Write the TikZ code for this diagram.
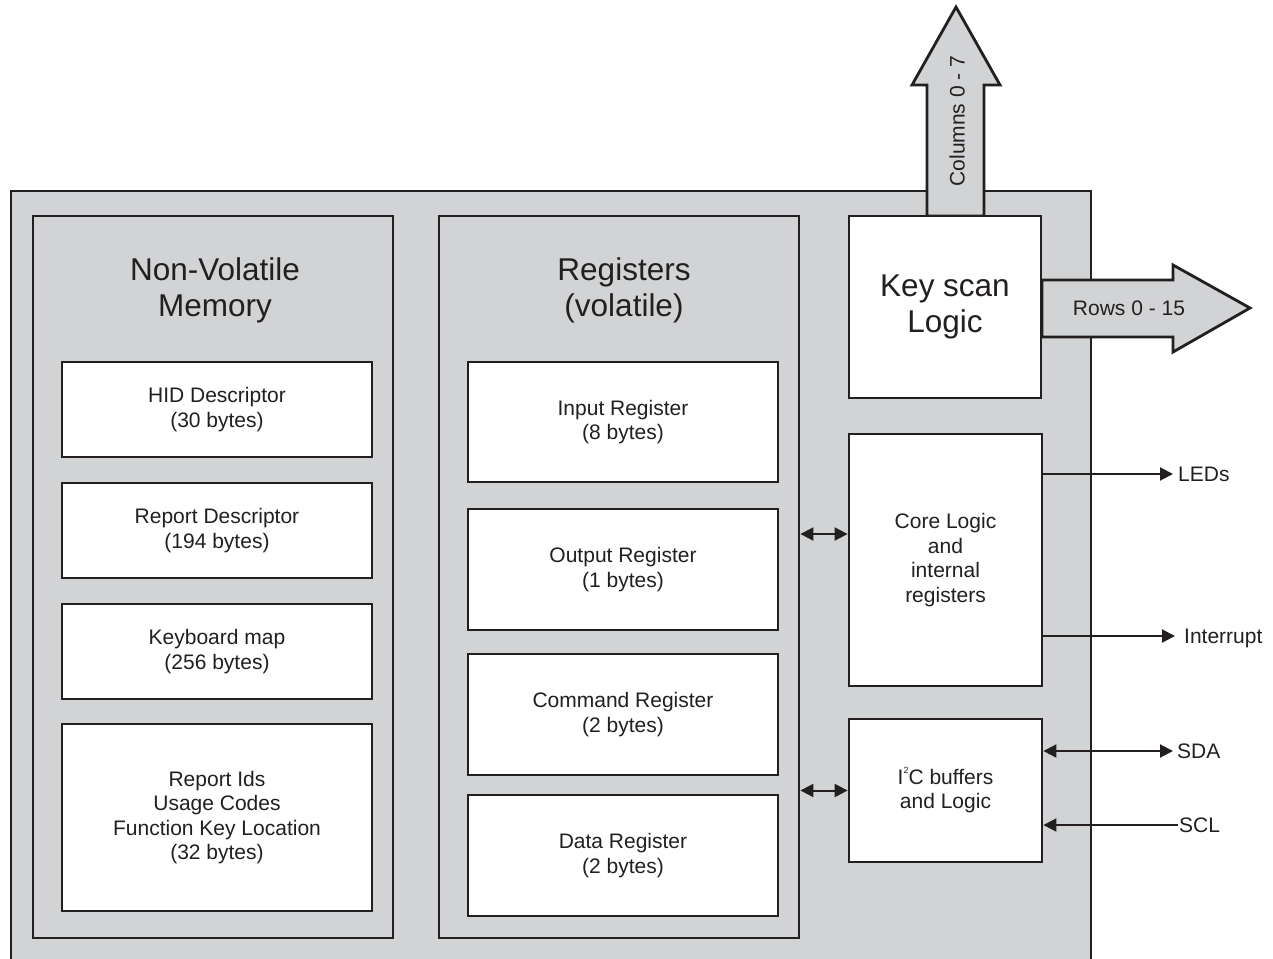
\documentclass[tikz,border=0pt]{standalone}
\usepackage{fontspec}
\setmainfont{Liberation Sans}
\usetikzlibrary{arrows.meta}
\definecolor{panelgray}{RGB}{209,211,212}
\definecolor{inkdark}{RGB}{35,31,32}
\newcommand{\smalltxt}{\fontsize{21}{24.5}\selectfont}
\newcommand{\bigtxt}{\fontsize{31.5}{36}\selectfont}
\newcommand{\itwoc}{I\raisebox{0.95ex}{\fontsize{9}{9}\selectfont 2}C}

\begin{document}
\begin{tikzpicture}[x=1pt,y=-1pt,every node/.style={text=inkdark},
 chip/.style={draw=inkdark,fill=panelgray,line width=2.4pt,inner sep=0},
 panel/.style={draw=inkdark,fill=panelgray,line width=2.8pt,minimum width=360pt,minimum height=722pt,inner sep=0},
 cell/.style={draw=inkdark,fill=white,line width=2.8pt,minimum width=310pt,align=center,font=\smalltxt,inner sep=0},
 logic/.style={draw=inkdark,fill=white,line width=2.8pt,minimum width=193pt,align=center,font=\smalltxt,inner sep=0},
 title/.style={align=center,font=\bigtxt},
 fat/.style={draw=inkdark,fill=panelgray,line width=2.8pt,line join=miter},
 sig/.style={line width=2pt,draw=inkdark,-{Triangle[length=13pt,width=13pt]}},
 bus/.style={line width=2pt,draw=inkdark,{Triangle[length=13pt,width=13pt]}-{Triangle[length=13pt,width=13pt]}},
 pin/.style={anchor=west,font=\smalltxt,inner ysep=0,text height=15pt,text depth=0pt}]
\useasboundingbox (0,0) rectangle (1273,958);

% chip outline and the two memory panels
\node[chip,minimum width=1080pt,minimum height=780pt] (chip) at (551,581) {};
\node[panel] (nvm) at (213,577) {};
\node[panel] (regs) at (619,577) {};
\node[title] (nvmtitle) at (215,290) {Non-Volatile\\Memory};
\node[title] (regtitle) at (624,290) {Registers\\(volatile)};

% non-volatile memory contents
\node[cell,minimum height=95pt] (hid) at (217,409.5) {HID Descriptor\\(30 bytes)};
\node[cell,minimum height=95pt] (rdesc) at (217,530.5) {Report Descriptor\\(194 bytes)};
\node[cell,minimum height=95pt] (kmap) at (217,651.5) {Keyboard map\\(256 bytes)};
\node[cell,minimum height=187pt] (rids) at (217,817.5) {Report Ids\\Usage Codes\\Function Key Location\\(32 bytes)};

% registers
\node[cell,minimum height=120pt] (inreg) at (623,422) {Input Register\\(8 bytes)};
\node[cell,minimum height=121pt] (outreg) at (623,569.5) {Output Register\\(1 bytes)};
\node[cell,minimum height=121pt] (cmdreg) at (623,714.5) {Command Register\\(2 bytes)};
\node[cell,minimum height=121pt] (datareg) at (623,855.5) {Data Register\\(2 bytes)};

% scan outputs
\draw[fat] (927,216) -- (927,85) -- (912,85) -- (956,7) -- (1000,85) -- (984,85) -- (984,216) -- cycle;
\draw[fat] (1042,280) -- (1173,280) -- (1173,265) -- (1250,308) -- (1173,352) -- (1173,337) -- (1042,337) -- cycle;
\node[rotate=90,font=\smalltxt] (cols) at (957,121) {Columns 0 - 7};
\node[font=\smalltxt] (rows) at (1129,308) {Rows 0 - 15};

% logic blocks
\node[logic,minimum width=192pt,minimum height=182pt,font=\bigtxt] (keyscan) at (945,307) {Key scan\\Logic};
\node[logic,minimum height=252pt] (core) at (945.5,560) {Core Logic\\and\\internal\\registers};
\node[logic,minimum height=143pt] (i2c) at (945.5,790.5) {\itwoc{} buffers\\and Logic};

% pins
\node[pin,inner xsep=5pt] (leds) at (1173,474) {LEDs};
\node[pin,inner xsep=9pt] (intr) at (1175,636) {Interrupt};
\node[pin,inner xsep=4pt] (sda) at (1173,751) {SDA};
\node[pin,inner xsep=1pt] (scl) at (1178,825) {SCL};

\coordinate (corein) at ([yshift=26pt]core.west);
\draw[bus] (regs.east |- corein) -- (corein);
\draw[bus] (regs.east |- i2c.west) -- (i2c.west);
\draw[sig] (core.east |- leds.west) -- (leds.west);
\draw[sig] (core.east |- intr.west) -- (intr.west);
\draw[bus] (i2c.east |- sda.west) -- (sda.west);
\draw[sig] (scl.west) -- (i2c.east |- scl.west);
\end{tikzpicture}
\end{document}
